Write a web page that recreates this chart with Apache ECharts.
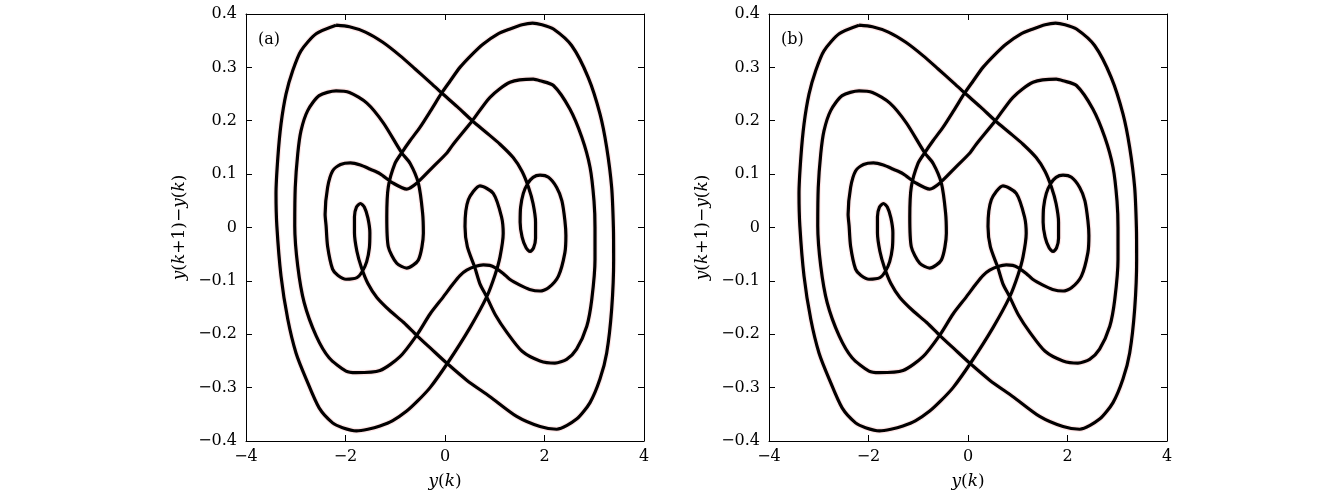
<!DOCTYPE html>
<html>
<head>
<meta charset="utf-8">
<script src="https://cdn.jsdelivr.net/npm/echarts@6/dist/echarts.min.js"></script>
<style>
html,body{margin:0;padding:0;background:#fff;}
#chart{width:1339px;height:497px;}
</style>
</head>
<body>
<div id="chart"></div>
<script>
// Phase trajectory: y(k) values
const trajX = [
-2.19,-1.92,-1.60,-1.25,-0.905,-0.60,-0.30,-0.066,0.25,0.549,0.83,1.106,1.37,1.55,1.68,1.77,1.82,1.82,1.78,1.71,
1.63,1.55,1.51,1.52,1.574,1.66,1.77,1.91,2.08,2.245,2.35,2.41,2.43,2.41,2.28,2.08,1.91,1.70,1.507,1.30,
1.17,1.005,0.90,0.77,0.60,0.436,0.30,0.167,-0.034,-0.30,-0.57,-0.905,-1.307,-1.79,-1.99,-2.33,-2.59,-2.83,-2.96,-3.02,
-3.01,-2.96,-2.895,-2.76,-2.53,-2.19,-1.92,-1.57,-1.24,-0.87,-0.70,-0.535,-0.45,-0.435,-0.535,-0.77,-0.97,-1.14,-1.17,-1.14,
-1.005,-0.87,-0.70,-0.50,-0.28,-0.066,0.10,0.30,0.55,0.77,1.05,1.307,1.55,1.76,1.95,2.18,2.545,2.88,3.115,3.25,
3.35,3.385,3.39,3.35,3.25,3.115,2.915,2.645,2.245,1.91,1.44,0.905,0.436,0.033,-0.27,-0.57,-0.83,-1.106,-1.37,-1.55,
-1.68,-1.77,-1.82,-1.82,-1.78,-1.70,-1.62,-1.55,-1.51,-1.52,-1.574,-1.66,-1.77,-1.99,-2.15,-2.26,-2.36,-2.39,-2.41,-2.36,
-2.26,-2.10,-1.90,-1.70,-1.50,-1.31,-1.04,-0.77,-0.57,-0.235,0.033,0.166,0.549,0.905,1.307,1.775,1.91,2.18,2.51,2.75,
2.915,2.995,3.015,3.015,2.95,2.85,2.645,2.445,2.21,1.91,1.55,1.24,1.02,0.838,0.70,0.603,0.449,0.402,0.469,0.703,
0.97,1.136,1.17,1.106,1.005,0.838,0.50,0.066,-0.30,-0.55,-0.77,-1.05,-1.307,-1.55,-1.78,-2.06,-2.26,-2.53,-2.79,-2.995,
-3.16,-3.296,-3.38,-3.397,-3.36,-3.296,-3.196,-3.06,-2.895,-2.59,-2.19
];
// Phase trajectory: y(k+1) - y(k) values
const trajY = [
0.379,0.376,0.366,0.347,0.322,0.297,0.272,0.252,0.226,0.200,0.178,0.156,0.131,0.105,0.075,0.045,0.010,-0.020,-0.038,-0.045,
-0.038,-0.018,0.010,0.038,0.064,0.082,0.094,0.098,0.094,0.075,0.050,0.013,-0.015,-0.047,-0.091,-0.113,-0.119,-0.116,-0.108,-0.097,
-0.086,-0.075,-0.071,-0.070,-0.073,-0.080,-0.090,-0.105,-0.130,-0.162,-0.202,-0.242,-0.268,-0.272,-0.269,-0.244,-0.203,-0.141,-0.072,0.003,
0.075,0.138,0.181,0.219,0.247,0.256,0.253,0.233,0.196,0.140,0.120,0.083,0.027,-0.011,-0.061,-0.076,-0.067,-0.036,0.020,0.076,
0.120,0.140,0.163,0.188,0.220,0.252,0.274,0.300,0.325,0.344,0.362,0.372,0.380,0.383,0.380,0.372,0.341,0.281,0.213,0.150,
0.075,0.000,-0.060,-0.153,-0.235,-0.284,-0.328,-0.359,-0.378,-0.373,-0.354,-0.317,-0.286,-0.254,-0.228,-0.202,-0.178,-0.156,-0.131,-0.105,
-0.075,-0.045,-0.010,0.020,0.038,0.045,0.038,0.018,-0.010,-0.038,-0.064,-0.082,-0.094,-0.097,-0.090,-0.078,-0.035,0.003,0.025,0.075,
0.106,0.118,0.121,0.117,0.109,0.101,0.083,0.072,0.083,0.114,0.139,0.156,0.200,0.244,0.272,0.278,0.275,0.266,0.222,0.169,
0.113,0.050,0.000,-0.060,-0.135,-0.185,-0.228,-0.247,-0.254,-0.250,-0.232,-0.196,-0.165,-0.130,-0.105,-0.076,-0.036,0.002,0.052,0.078,
0.064,0.020,-0.011,-0.055,-0.089,-0.130,-0.188,-0.252,-0.300,-0.325,-0.344,-0.362,-0.372,-0.378,-0.381,-0.375,-0.366,-0.338,-0.284,-0.235,
-0.172,-0.091,0.003,0.063,0.131,0.194,0.250,0.294,0.331,0.363,0.379
];
const xRange = {min: -4, max: 4, step: 2};
const yRange = {min: -0.4, max: 0.4, step: 0.1};
const panelLabels = ['(a)', '(b)'];

const pts = trajX.map((x, i) => [x, trajY[i]]);

const serif = 'DejaVu Serif';
const fmtNum = v => {
  const r = Math.round(v * 10) / 10;
  if (Math.abs(r) < 1e-9) return '0';
  const s = Math.abs(r - Math.round(r)) > 1e-9 ? r.toFixed(1) : String(Math.round(r));
  return s.replace('-', '\u2212');
};

const grids = [
  {left: 246, top: 14, width: 398, height: 427},
  {left: 769, top: 14, width: 398, height: 427}
];

const xAxes = [], yAxes = [], series = [];
grids.forEach((g, gi) => {
  const common = {
    gridIndex: gi, type: 'value',
    axisLine: {show: true, onZero: false, lineStyle: {color: '#000', width: 1}},
    axisTick: {show: true, inside: true, length: 6, lineStyle: {color: '#000', width: 1}},
    splitLine: {show: false}
  };
  const richName = {i: {fontFamily: serif, fontStyle: 'italic', fontSize: 17, color: '#000'},
                    n: {fontFamily: serif, fontSize: 17, color: '#000'}};
  xAxes.push(Object.assign({}, common, {
    position: 'bottom', min: xRange.min, max: xRange.max, interval: xRange.step,
    axisLabel: {show: true, margin: 8, color: '#000', fontFamily: serif, fontSize: 16, formatter: fmtNum},
    name: '{i|y}{n|(}{i|k}{n|)}', nameLocation: 'middle', nameGap: 32,
    nameTextStyle: {rich: richName}
  }));
  xAxes.push(Object.assign({}, common, {
    position: 'top', min: xRange.min, max: xRange.max, interval: xRange.step,
    axisLabel: {show: false}
  }));
  yAxes.push(Object.assign({}, common, {
    position: 'left', min: yRange.min, max: yRange.max, interval: yRange.step,
    axisLabel: {show: true, margin: 9, color: '#000', fontFamily: serif, fontSize: 16, formatter: fmtNum},
    name: '{i|y}{n|(}{i|k}{n|+1)\u2212}{i|y}{n|(}{i|k}{n|)}', nameLocation: 'middle', nameGap: 58, nameRotate: 90,
    nameTextStyle: {rich: richName}
  }));
  yAxes.push(Object.assign({}, common, {
    position: 'right', min: yRange.min, max: yRange.max, interval: yRange.step,
    axisLabel: {show: false}
  }));
  series.push({
    type: 'line', xAxisIndex: gi * 2, yAxisIndex: gi * 2, data: pts, showSymbol: false, smooth: 0.25,
    lineStyle: {color: '#ff0000', width: 5.5, opacity: 0.1}, silent: true, animation: false, z: 1
  });
  series.push({
    type: 'line', xAxisIndex: gi * 2, yAxisIndex: gi * 2, data: pts, showSymbol: false, smooth: 0.25,
    lineStyle: {color: '#000', width: 3.2}, silent: true, animation: false, z: 2
  });
});

const chart = echarts.init(document.getElementById('chart'), null, {renderer: 'canvas'});
chart.setOption({
  backgroundColor: '#fff',
  animation: false,
  grid: grids,
  xAxis: xAxes,
  yAxis: yAxes,
  series: series,
  graphic: panelLabels.map((t, i) => ({
    type: 'text', left: grids[i].left + 12, top: grids[i].top + 18,
    style: {text: t, font: '16px "DejaVu Serif"', fill: '#000'}
  }))
});
</script>
</body>
</html>
